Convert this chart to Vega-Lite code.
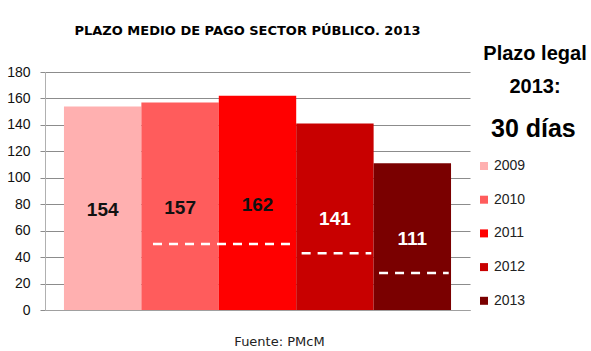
{
  "$schema": "https://vega.github.io/schema/vega-lite/v6.json",
  "width": 425,
  "height": 238,
  "autosize": {"type": "none"},
  "padding": {"left": 45, "top": 72, "right": 121, "bottom": 41},
  "background": "white",
  "title": {
    "text": "PLAZO MEDIO DE PAGO SECTOR PÚBLICO. 2013",
    "font": "DejaVu Sans",
    "fontSize": 13,
    "fontWeight": "bold",
    "color": "#000000",
    "anchor": "middle",
    "frame": "group",
    "dx": -10,
    "dy": 4,
    "baseline": "alphabetic",
    "offset": 0
  },
  "datasets": {
    "bars": [
      {"year": "2009", "value": 154},
      {"year": "2010", "value": 157},
      {"year": "2011", "value": 162},
      {"year": "2012", "value": 141},
      {"year": "2013", "value": 111}
    ],
    "legal": [
      {"from": "2010", "to": "2011", "days": 50, "grp": "a"},
      {"from": "2012", "to": "2012", "days": 43, "grp": "b"},
      {"from": "2013", "to": "2013", "days": 28, "grp": "b"}
    ]
  },
  "layer": [
    {
      "data": {"name": "bars"},
      "mark": {"type": "bar"},
      "encoding": {
        "x": {
          "field": "year", "type": "nominal",
          "scale": {"paddingInner": 0, "paddingOuter": 0.245},
          "axis": {
            "labels": false, "ticks": false, "domain": true, "domainColor": "#a0a0a0",
            "title": "Fuente: PMcM", "titleFont": "DejaVu Sans", "titleFontSize": 13,
            "titleFontWeight": "normal", "titleColor": "#222222",
            "titleX": 234, "titleY": 31, "titleBaseline": "middle", "titleAlign": "center"
          }
        },
        "y": {
          "field": "value", "type": "quantitative",
          "scale": {"domain": [0, 180], "nice": false},
          "axis": {
            "title": null, "values": [0, 20, 40, 60, 80, 100, 120, 140, 160, 180],
            "labelFont": "Liberation Sans", "labelFontSize": 14, "labelColor": "#111111",
            "labelPadding": 10, "tickSize": 5, "tickColor": "#8c8c8c", "domainColor": "#b0b0b0",
            "gridColor": "#8c8c8c", "grid": true
          }
        },
        "color": {
          "field": "year", "type": "nominal",
          "scale": {"domain": ["2009", "2010", "2011", "2012", "2013"],
                    "range": ["#ffb0b0", "#ff5c5c", "#ff0000", "#c80000", "#7a0000"]},
          "legend": {
            "title": null, "orient": "none", "legendX": 432, "legendY": 87, "padding": 0,
            "symbolType": "square", "symbolSize": 64, "symbolStrokeWidth": 0,
            "labelFont": "Liberation Sans", "labelFontSize": 14, "labelColor": "#222222",
            "labelOffset": 3, "rowPadding": 19.7
          }
        }
      }
    },
    {
      "data": {"name": "legal"},
      "transform": [{"filter": "datum.grp === 'a'"}],
      "mark": {"type": "rule", "color": "white", "strokeWidth": 2.5},
      "encoding": {
        "x": {"field": "from", "type": "nominal", "bandPosition": 0.15},
        "x2": {"field": "to", "bandPosition": 1.0},
        "y": {"field": "days", "type": "quantitative", "scale": {"domain": [0, 180], "nice": false}, "axis": null},
        "strokeDash": {
          "datum": "30 días",
          "scale": {"range": [[9, 7]]},
          "legend": {
            "orient": "none", "legendX": 438, "legendY": -28, "padding": 0,
            "title": ["Plazo legal", "2013:"],
            "titleFont": "Liberation Sans", "titleFontSize": 20, "titleFontWeight": "bold",
            "titleColor": "#000000", "titleLineHeight": 33, "titleAlign": "center", "titleAnchor": "middle",
            "titlePadding": 19, "titleLimit": 300,
            "labelFont": "Liberation Sans", "labelFontSize": 25, "labelFontWeight": "bold",
            "labelColor": "#000000", "labelOffset": -28, "labelLimit": 300,
            "symbolOpacity": 0, "symbolStrokeWidth": 0, "symbolSize": 1
          }
        }
      }
    },
    {
      "data": {"name": "legal"},
      "transform": [{"filter": "datum.grp === 'b'"}],
      "mark": {"type": "rule", "color": "white", "strokeWidth": 2.5, "strokeDash": [9, 7]},
      "encoding": {
        "x": {"field": "from", "type": "nominal", "bandPosition": 0.07},
        "x2": {"field": "to", "bandPosition": 0.97},
        "y": {"field": "days", "type": "quantitative", "scale": {"domain": [0, 180], "nice": false}, "axis": null}
      }
    },
    {
      "data": {"name": "bars"},
      "mark": {"type": "text", "font": "Liberation Sans", "fontSize": 19, "fontWeight": "bold", "baseline": "middle", "dy": 2},
      "encoding": {
        "x": {"field": "year", "type": "nominal"},
        "y": {"field": "value", "type": "quantitative", "scale": {"domain": [0, 360], "nice": false}, "axis": null},
        "text": {"field": "value", "type": "quantitative"},
        "color": {"condition": {"test": "datum.value < 150", "value": "#ffffff"}, "value": "#111111"}
      }
    }
  ],
  "resolve": {"scale": {"y": "independent", "strokeDash": "independent"}},
  "config": {"view": {"stroke": null}}
}
